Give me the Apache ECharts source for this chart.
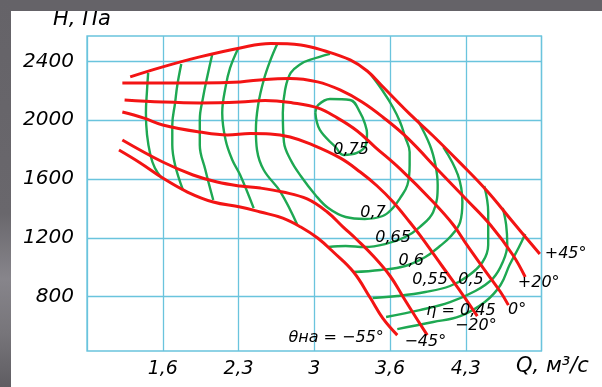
<!DOCTYPE html>
<html><head><meta charset="utf-8">
<script src="https://cdn.jsdelivr.net/npm/echarts@6/dist/echarts.min.js"></script>
<style>html,body{margin:0;padding:0;background:#fff}#c{width:602px;height:387px}</style>
</head><body><div id="c"></div>
<script>
// ---- axes ----
const xTickValues = [1.6, 2.275, 2.95, 3.625, 4.3];
const xTickLabels = ['1,6', '2,3', '3', '3,6', '4,3'];
const yTickValues = [800, 1200, 1600, 2000, 2400];
const yTickLabels = ['800', '1200', '1600', '2000', '2400'];

// ---- red curves: blade angle θна, [Q m3/s, H Pa] ----
const theta45 = [[1.31,2295],[1.60,2363],[1.93,2431],[2.29,2492],[2.56,2522],[2.83,2512],[3.047,2471],[3.27,2410],[3.422,2335],[3.555,2233],[3.80,2043],[4.01,1893],[4.25,1710],[4.49,1519],[4.72,1308],[4.96,1090]];
const theta20 = [[1.24,2254],[1.60,2254],[1.93,2254],[2.29,2261],[2.513,2278],[2.735,2284],[2.98,2261],[3.18,2206],[3.376,2124],[3.56,2022],[3.78,1880],[4.07,1648],[4.31,1458],[4.52,1288],[4.72,1084],[4.83,934]];
const theta0 = [[1.26,2138],[1.60,2124],[1.93,2118],[2.29,2124],[2.513,2135],[2.76,2118],[2.98,2084],[3.155,2016],[3.333,1927],[3.492,1818],[3.715,1669],[4.01,1444],[4.19,1288],[4.31,1152],[4.456,995],[4.61,832],[4.68,743]];
const thetaM20 = [[1.24,2056],[1.426,2016],[1.60,1968],[1.93,1920],[2.175,1900],[2.38,1910],[2.557,1907],[2.735,1886],[2.914,1839],[3.18,1744],[3.36,1648],[3.511,1553],[3.653,1444],[3.80,1308],[3.89,1220],[4.089,1009],[4.269,818],[4.403,668]];
const thetaM45 = [[1.24,1866],[1.60,1716],[1.87,1628],[2.085,1580],[2.29,1553],[2.47,1539],[2.67,1512],[2.887,1465],[3.066,1376],[3.208,1274],[3.333,1186],[3.476,1077],[3.626,941],[3.742,798],[3.831,689],[3.957,539]];
const thetaM55 = [[1.21,1798],[1.40,1710],[1.60,1607],[1.82,1512],[2.05,1444],[2.29,1410],[2.47,1376],[2.67,1335],[2.83,1274],[2.98,1199],[3.12,1104],[3.30,968],[3.45,791],[3.56,655],[3.69,539]];

// ---- green curves: efficiency η contours ----
const eta045Left = [[1.47,2322],[1.46,2206],[1.45,2050],[1.46,1900],[1.49,1764],[1.53,1675],[1.59,1607]];
const eta045Right = [[3.69,580],[4.01,628],[4.25,668],[4.47,764],[4.61,880],[4.69,1016],[4.77,1131],[4.83,1227]];
const eta05Left = [[1.765,2383],[1.73,2240],[1.71,2118],[1.685,1968],[1.685,1832],[1.71,1696],[1.78,1526]];
const eta05Right = [[4.63,1403],[4.66,1288],[4.67,1152],[4.63,1036],[4.545,927],[4.385,839],[4.16,764],[3.89,709],[3.59,662]];
const eta055Left = [[2.04,2444],[2.00,2308],[1.96,2158],[1.93,2002],[1.93,1832],[1.98,1662],[2.05,1458]];
const eta055Right = [[4.465,1553],[4.50,1376],[4.50,1152],[4.45,1036],[4.32,941],[4.16,873],[3.94,832],[3.69,805],[3.47,791]];
const eta06Left = [[2.27,2485],[2.20,2356],[2.16,2227],[2.13,2050],[2.16,1866],[2.22,1730],[2.29,1628],[2.41,1403]];
const eta06Right = [[4.10,1818],[4.23,1628],[4.27,1444],[4.25,1308],[4.16,1206],[4.07,1145],[3.94,1070],[3.76,1009],[3.54,982],[3.30,968]];
const eta065Left = [[2.62,2519],[2.56,2410],[2.50,2274],[2.45,2104],[2.43,1934],[2.44,1798],[2.50,1662],[2.65,1512],[2.80,1288]];
const eta065Right = [[3.87,2002],[3.98,1832],[4.03,1696],[4.05,1560],[4.01,1376],[3.89,1274],[3.76,1206],[3.58,1158],[3.40,1138],[3.23,1145],[3.075,1138]];
const eta07 = [[3.09,2451],[2.91,2410],[2.83,2383],[2.74,2322],[2.69,2206],[2.67,2050],[2.68,1852],[2.74,1730],[2.83,1621],[2.96,1492],[3.075,1403],[3.23,1342],[3.40,1329],[3.56,1349],[3.65,1403],[3.715,1471],[3.78,1560],[3.80,1696],[3.80,1784],[3.76,1886],[3.715,1988],[3.65,2090],[3.555,2206],[3.45,2315]];
const eta075 = [[2.96,2050],[2.986,2104],[3.09,2145],[3.27,2138],[3.36,2050],[3.405,1968],[3.42,1913],[3.41,1832],[3.33,1778],[3.21,1764],[3.14,1818],[3.00,1934],[2.96,2050]];

// ---- curve labels [Q, H, text] ----
const angleLabels = [[5.19,1090,'+45°'],[4.95,893,'+20°'],[4.757,709,'0°'],[4.39,601,'−20°'],[3.94,492,'−45°'],[3.145,519,'θна = −55°']];
const etaLabels = [[3.278,1798,'0,75'],[3.474,1369,'0,7'],[3.653,1199,'0,65'],[3.813,1043,'0,6'],[3.982,914,'0,55'],[4.347,914,'0,5'],[4.258,702,'η = 0,45']];

const FONT = 'DejaVu Sans';
const RED = '#f31414', GREEN = '#1ea852', GRIDC = '#6ac4dd';

function redLine(data){return {type:'line',data:data,smooth:0.4,symbol:'none',silent:true,z:4,lineStyle:{color:RED,width:3}};}
function greenLine(data){return {type:'line',data:data,smooth:0.4,symbol:'none',silent:true,z:3,lineStyle:{color:GREEN,width:2.4}};}
function labelSeries(data){return {type:'scatter',data:data,symbolSize:0,clip:false,silent:true,z:6,
  itemStyle:{opacity:1,color:'#000'},
  label:{show:true,position:'inside',align:'center',verticalAlign:'middle',formatter:p=>p.data[2],opacity:1,
    color:'#000',textBorderWidth:0,textBorderColor:'transparent',textShadowBlur:0,
    fontFamily:FONT,fontStyle:'italic',fontSize:16}};}

const chart = echarts.init(document.getElementById('c'));
chart.setOption({
  animation:false,
  backgroundColor:'#ffffff',
  grid:{left:87,right:60.5,top:36,bottom:36,show:true,borderColor:GRIDC,borderWidth:1.3},
  xAxis:{type:'value',min:0.925,max:4.975,interval:0.675,
    axisLine:{show:false},axisTick:{show:false},
    splitLine:{show:true,lineStyle:{color:GRIDC,width:1.3}},
    axisLabel:{margin:9,color:'#000',fontFamily:FONT,fontStyle:'italic',fontSize:19,
      formatter:v=>{const i=Math.round((v-0.925)/0.675)-1;return (i>=0&&i<xTickLabels.length)?xTickLabels[i]:'';}}},
  yAxis:{type:'value',min:431,max:2573,
    axisLine:{show:false},
    axisTick:{show:false,customValues:yTickValues},
    splitLine:{show:true,lineStyle:{color:GRIDC,width:1.3}},
    axisLabel:{customValues:yTickValues,margin:13,color:'#000',fontFamily:FONT,fontStyle:'italic',fontSize:20,
      formatter:v=>{const i=yTickValues.indexOf(Math.round(v));return i>=0?yTickLabels[i]:'';}}},
  series:[
    greenLine(eta045Left),greenLine(eta045Right),greenLine(eta05Left),greenLine(eta05Right),
    greenLine(eta055Left),greenLine(eta055Right),greenLine(eta06Left),greenLine(eta06Right),
    greenLine(eta065Left),greenLine(eta065Right),greenLine(eta07),greenLine(eta075),
    redLine(theta45),redLine(theta20),redLine(theta0),redLine(thetaM20),redLine(thetaM45),redLine(thetaM55),
    labelSeries(angleLabels),labelSeries(etaLabels)
  ],
  graphic:[
    {type:'text',left:53,top:9,z:5,style:{text:'H, Па',fill:'#000',font:'italic 21px "DejaVu Sans"'}},
    {type:'text',left:516,top:356,z:5,style:{text:'Q, м³/с',fill:'#000',font:'italic 21px "DejaVu Sans"'}},
    {type:'rect',left:0,top:0,z:10,shape:{width:602,height:11},style:{fill:'#656368'}},
    {type:'rect',left:0,top:0,z:10,shape:{width:11,height:387},
      style:{fill:new echarts.graphic.LinearGradient(0,0,0,1,[
        {offset:0,color:'#656368'},{offset:0.55,color:'#69676c'},{offset:0.72,color:'#87858b'},
        {offset:0.86,color:'#77757a'},{offset:1,color:'#5f5d62'}])}}
  ]
});
</script></body></html>
